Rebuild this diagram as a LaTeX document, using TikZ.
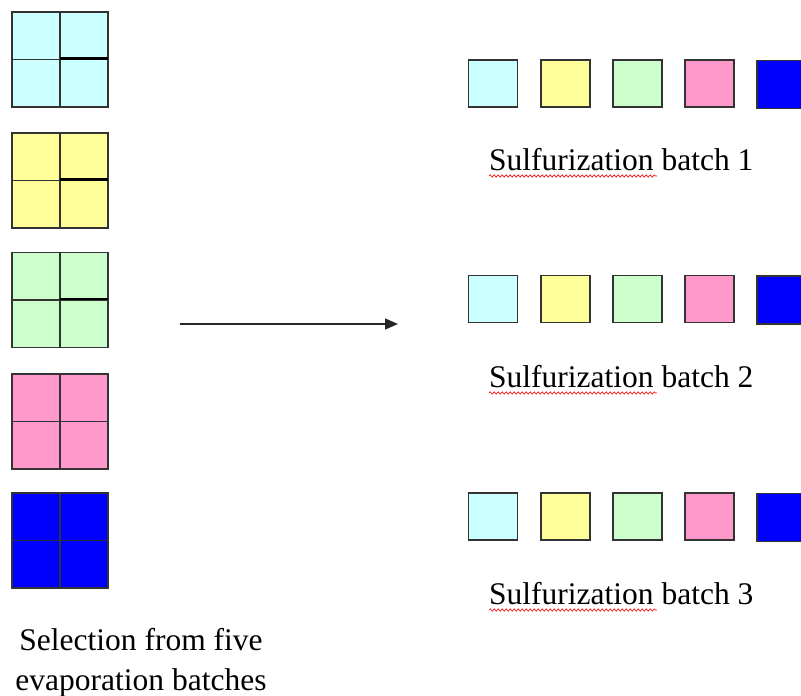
\documentclass[tikz,border=0pt]{standalone}
\usepackage{fontspec}
\setmainfont{Liberation Serif}
\newfontfamily\lblfont{Liberation Serif}
\usetikzlibrary{arrows.meta,decorations.pathmorphing}
\definecolor{cyanb}{HTML}{CCFFFF}
\definecolor{yellowb}{HTML}{FFFF99}
\definecolor{greenb}{HTML}{CCFFCC}
\definecolor{pinkb}{HTML}{FF99CC}
\definecolor{blueb}{HTML}{0000FF}
\definecolor{edge}{HTML}{333333}
\begin{document}
\begin{tikzpicture}[x=1pt,y=-1pt,
  gridbox/.style={draw=edge, line width=1.6pt, minimum width=96pt, minimum height=95pt, inner sep=0pt, outer sep=0pt},
  gridline/.style={draw=edge, line width=1.6pt},
  thickline/.style={draw=black, line width=2.6pt},
  chip/.style={draw=edge, line width=1.6pt, minimum width=49pt, minimum height=47pt, inner sep=0pt, outer sep=0pt},
  txt/.style={font=\lblfont\fontsize{31.5}{40}\selectfont, inner sep=0pt, text=black},
  lbl/.style={txt, anchor=base west},
  squig/.style={red, line width=0.6pt, decorate, decoration={snake, segment length=4pt, amplitude=1.2pt}},
  arr/.style={line width=1.4pt, draw=black!85, -{Triangle[length=13pt,width=11pt]}}]
\useasboundingbox (0,0) rectangle (801,696);
\fill[white] (0,0) rectangle (801,696);
% left grids
\foreach \c/\y/\n in {cyanb/59.5/1, yellowb/180.5/2, greenb/300/3, pinkb/421.5/4, blueb/540.5/5}{
  \node[gridbox, fill=\c] (g\n) at (60,\y) {};
  \draw[gridline] (g\n.north) -- (g\n.south);
  \draw[gridline] (g\n.west) -- (g\n.east);
}
\foreach \n in {1,2,3}{
  \draw[thickline] ([yshift=1pt]g\n.center) -- ([yshift=1pt]g\n.east);
}
% right rows
\foreach \r/\y in {1/83.5, 2/299, 3/516.5}{
  \foreach \c/\x/\k in {cyanb/493/1, yellowb/565.5/2, greenb/637.5/3, pinkb/709.5/4}{
    \node[chip, fill=\c] (s\r\k) at (\x,\y) {};
  }
  \node[chip, fill=blueb, minimum height=48pt, minimum width=50pt] (s\r5) at (782,\y+1) {};
}
% labels
\node[lbl] (t1) at (489,170) {Sulfurization batch 1};
\node[lbl] (t2) at (489,387) {Sulfurization batch 2};
\node[lbl] (t3) at (489,604) {Sulfurization batch 3};
\foreach \n in {1,2,3}{
  \draw[squig] ([yshift=-6pt]t\n.base west) -- ++(168,0);
}
\node[txt, align=center, anchor=base] (sel) at (141,690) {Selection from five\\evaporation batches};
% arrow
\coordinate (a0) at (180,324);
\coordinate (a1) at (398,324);
\draw[arr] (a0) -- (a1);
\end{tikzpicture}
\end{document}
